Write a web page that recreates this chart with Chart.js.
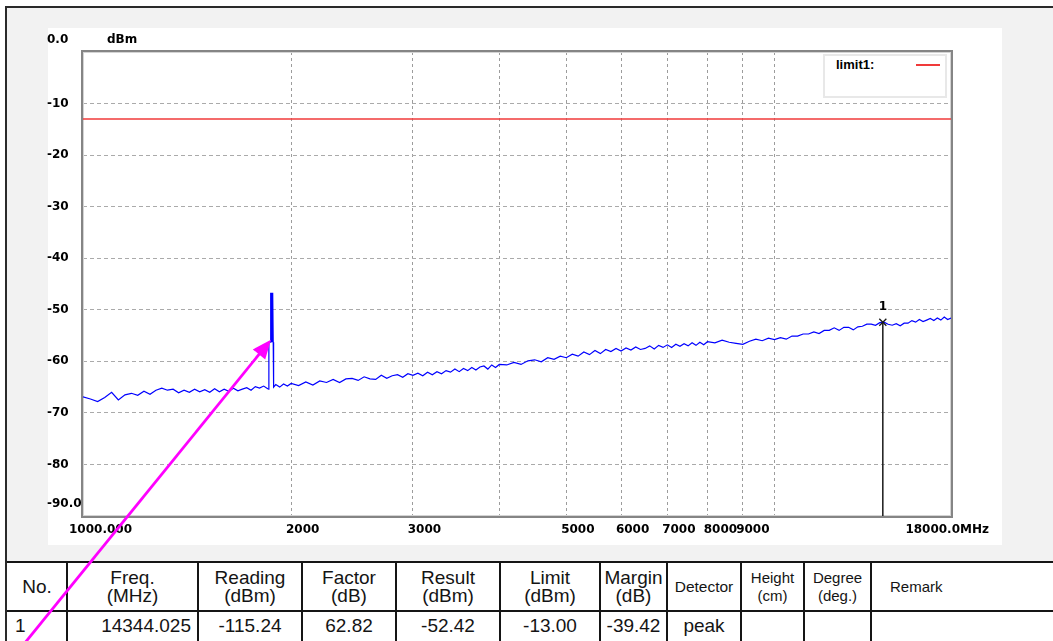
<!DOCTYPE html>
<html><head><meta charset="utf-8">
<script src="https://cdn.jsdelivr.net/npm/chart.js@4.4.1/dist/chart.umd.min.js"></script>
<style>
html,body{margin:0;padding:0;background:#fff;width:1053px;height:641px;overflow:hidden;position:relative;font-family:"Liberation Sans",Arial,sans-serif;}
#frame{position:absolute;left:5px;top:6px;width:1100px;height:700px;border-left:2px solid #2a2a2a;border-top:2px solid #2a2a2a;background:#f2f2f2;}
#plotbg{position:absolute;left:48px;top:28px;width:954px;height:517px;background:#fff;}
#c{position:absolute;left:44px;top:28px;}
#legend{position:absolute;left:823px;top:54px;width:120px;height:40px;border:2px solid #e8e8e8;background:#fff;}
#legend span.t{position:absolute;left:11px;top:1px;font:bold 13px "Liberation Sans",Arial,sans-serif;color:#000;}
#legend span.l{position:absolute;left:91px;top:8px;width:24px;height:2px;background:#f03a3a;}
#tbl{position:absolute;left:7px;top:561px;width:1100px;height:90px;background:#fff;}
.hl{position:absolute;left:7px;width:1100px;height:2px;background:#151515;}
.vl{position:absolute;top:561px;width:1.5px;height:90px;background:#151515;}
.cell{position:absolute;display:flex;align-items:center;justify-content:center;text-align:center;color:#141414;white-space:nowrap;}
#arrow{position:absolute;left:0;top:0;pointer-events:none;}
</style>
</head><body>
<div id="frame"></div>
<div id="plotbg"></div>
<canvas id="c" width="958" height="517"></canvas>
<div id="legend"><span class="t">limit1:</span><span class="l"></span></div>
<div id="tbl"></div>
<div id="cells"></div>
<svg id="arrow" width="1053" height="641"></svg>
<script>
// ---------------- data ----------------
const lowBandFreq = [1000,1025,1050,1075,1100,1125,1150,1175,1200,1225,1250,1275,1300,1325,1350,1375,1400,1425,1450,1475,1500,1525,1550,1575,1600,1625,1650,1675,1700,1725,1750,1775,1800,1825,1850];
const lowBandLevel = [-66.9,-67.3,-67.8,-67.0,-66.0,-67.5,-66.5,-66.2,-66.6,-65.8,-66.4,-65.6,-65.2,-65.6,-65.4,-66.1,-65.6,-66.0,-65.4,-65.9,-65.5,-66.0,-65.3,-65.9,-65.4,-65.8,-65.2,-65.7,-65.4,-65.1,-65.6,-64.9,-65.2,-64.8,-65.3];
const spikeFreq = [1856,1857,1866,1867,1869.5,1872,1874.5,1877,1879.5,1882,1884,1886,1887];
const spikeLevel = [-65.4,-56.3,-56.3,-46.7,-56.3,-46.7,-56.3,-46.7,-56.3,-46.7,-56.3,-56.3,-65.0];
const band1Freq = [1900,1925,1950,1975,2000];
const band1Level = [-64.5,-65.0,-64.4,-64.8,-64.3];
const band2Freq = [2050,2100,2150,2200,2250,2300,2350,2400,2450,2500,2550,2600,2650,2700,2750,2800,2850,2900,2950,3000,3050,3100,3150,3200,3250,3300,3350,3400,3450,3500,3550,3600,3650,3700,3750,3800,3850,3900,3950,4000];
const band2Level = [-64.7,-64.0,-64.6,-63.8,-64.1,-63.5,-64.1,-63.4,-63.3,-63.7,-63.0,-63.4,-63.5,-62.7,-63.3,-62.8,-62.6,-63.1,-62.4,-62.7,-62.3,-62.8,-62.1,-62.6,-62.0,-62.4,-61.8,-62.1,-61.5,-62.0,-61.4,-61.8,-61.2,-61.7,-61.1,-60.9,-61.5,-60.7,-61.2,-60.6];
const band3Freq = [4100,4200,4300,4400,4500,4600,4700,4800,4900,5000,5100,5200,5300,5400,5500,5600,5700,5800,5900,6000,6100,6200,6300,6400,6500,6600,6700,6800,6900,7000,7100,7200,7300,7400,7500,7600,7700,7800,7900,8000];
const band3Level = [-60.7,-60.2,-60.6,-59.9,-59.7,-60.1,-59.3,-59.6,-59.0,-59.3,-58.6,-59.0,-58.2,-58.7,-57.9,-58.5,-57.7,-58.1,-57.5,-58.0,-57.4,-57.8,-57.2,-57.7,-57.5,-57.0,-57.6,-56.9,-57.3,-56.8,-57.3,-56.7,-57.1,-56.6,-57.0,-56.4,-56.9,-56.3,-56.8,-56.2];
const band4Freq = [8200,8400,8600,8800,9000,9200,9400,9600,9800,10000,10200,10400,10600,10800,11000,11200,11400,11600,11800,12000,12200,12400,12600,12800,13000,13200,13400,13600,13800,14000,14200,14400,14600,14800,15000,15200,15400,15600,15800,16000,16200,16400,16600,16800,17000,17200,17400,17600,17800,18000];
const band4Level = [-56.4,-55.9,-56.3,-56.5,-56.7,-56.1,-55.7,-56.0,-55.5,-55.8,-55.4,-55.7,-55.1,-55.1,-54.7,-54.7,-54.3,-54.6,-54.0,-54.0,-53.5,-54.0,-53.4,-53.4,-53.9,-53.3,-53.2,-52.8,-52.8,-53.0,-52.5,-52.4,-52.8,-53.0,-52.7,-53.1,-52.6,-52.6,-52.1,-52.4,-51.9,-52.3,-52.0,-51.7,-52.1,-51.6,-52.0,-51.4,-51.9,-51.6];

const limitFreq = [1000, 18000];
const limitLevel = [-13, -13];
const markerFreq = 14344.025;
const markerLevel = -52.42;
const markerLabel = '1';

const xTickValues = [1000,2000,3000,4000,5000,6000,7000,8000,9000,10000,18000];
const xTickLabels = ['1000.000','2000','3000','','5000','6000','7000','8000','9000','','18000.0MHz'];
const yTickValues = [0,-10,-20,-30,-40,-50,-60,-70,-80,-90];
const yTickLabels = ['0.0','-10','-20','-30','-40','-50','-60','-70','-80','-90.0'];
const yUnit = 'dBm';

const tableHeaders = [['No.'],['Freq.','(MHz)'],['Reading','(dBm)'],['Factor','(dB)'],['Result','(dBm)'],['Limit','(dBm)'],['Margin','(dB)'],['Detector'],['Height','(cm)'],['Degree','(deg.)'],['Remark']];
const tableRow = ['1','14344.025','-115.24','62.82','-52.42','-13.00','-39.42','peak','','',''];

// annotation arrow target (data coords)
const arrowTarget = {x: 1870, y: -55.8};

// --------------- build -----------------
const traceFreq = [].concat(lowBandFreq, spikeFreq, band1Freq, band2Freq, band3Freq, band4Freq);
const traceLevel = [].concat(lowBandLevel, spikeLevel, band1Level, band2Level, band3Level, band4Level);
const toXY = (fs, ls) => fs.map((f, i) => ({x: f, y: ls[i]}));

const BOLD = {family: '"DejaVu Sans", sans-serif', size: 12, weight: 'bold', lineHeight: 1};

const frameBorder = {
  id: 'frameBorder',
  beforeDatasetsDraw(chart) {
    const {ctx, chartArea: a} = chart;
    ctx.save();
    ctx.strokeStyle = '#d4d4d4'; ctx.lineWidth = 1;
    ctx.strokeRect(a.left + 0.5, a.top + 0.5, a.right - a.left - 1, a.bottom - a.top - 1);
    ctx.strokeStyle = '#858585'; ctx.lineWidth = 2;
    ctx.strokeRect(a.left - 1, a.top - 1, a.right - a.left + 2, a.bottom - a.top + 2);
    ctx.restore();
  }
};

const xLabelNudge = {
  id: 'xLabelNudge',
  beforeDraw(chart) {
    const s = chart.scales.x;
    const items = s.getLabelItems();
    if (!items || items._nudged) return;
    items._nudged = true;
    items[0].options.translation[0] -= 25.5;
    items[items.length - 1].options.translation[0] += 26.5;
    items[7].options.translation[0] += 1.5;
    items[8].options.translation[0] -= 1.5;
  }
};

const textBits = {
  id: 'textBits',
  afterDatasetsDraw(chart) {
    const {ctx, chartArea: a, scales: {x, y}} = chart;
    ctx.save();
    ctx.fillStyle = '#000';
    ctx.font = 'bold 12px "DejaVu Sans", sans-serif';
    ctx.textBaseline = 'middle';
    ctx.textAlign = 'left';
    ctx.fillText(yUnit, a.left + 24, a.top - 12);
    ctx.textAlign = 'center';
    ctx.fillText(markerLabel, x.getPixelForValue(markerFreq), y.getPixelForValue(markerLevel) - 15);
    ctx.restore();
  },
  afterRender(chart) { drawArrow(chart); }
};

function drawArrow(chart) {
  const r = chart.canvas.getBoundingClientRect();
  const tx = r.left + chart.scales.x.getPixelForValue(arrowTarget.x);
  const ty = r.top + chart.scales.y.getPixelForValue(arrowTarget.y);
  const sx = 24, sy = 644;
  const dx = tx - sx, dy = ty - sy, len = Math.hypot(dx, dy);
  const ux = dx / len, uy = dy / len, nx = -uy, ny = ux;
  const L = 19, W = 8;
  const bx = tx - ux * L, by = ty - uy * L;
  const svg = document.getElementById('arrow');
  svg.innerHTML =
    `<line x1="${sx}" y1="${sy}" x2="${bx + ux*2}" y2="${by + uy*2}" stroke="#ff00ff" stroke-width="2.8"/>` +
    `<polygon points="${tx},${ty} ${bx + nx*W},${by + ny*W} ${bx - nx*W},${by - ny*W}" fill="#ff00ff"/>`;
}

new Chart(document.getElementById('c'), {
  type: 'line',
  data: {
    datasets: [
      {label: 'marker', data: [{x: markerFreq, y: markerLevel}, {x: markerFreq, y: -90}], borderColor: '#1a1a1a', borderWidth: 1.5,
       pointRadius: [5, 0], pointStyle: 'crossRot', pointBorderColor: '#1a1a1a', pointBorderWidth: 1.3, order: 0},
      {label: 'trace', data: toXY(traceFreq, traceLevel), borderColor: '#0000ff', borderWidth: 1.2, pointRadius: 0, tension: 0, order: 1},
      {label: 'limit1', data: toXY(limitFreq, limitLevel), borderColor: '#f03a3a', borderWidth: 1.6, pointRadius: 0, order: 2}
    ]
  },
  options: {
    responsive: false, animation: false, devicePixelRatio: 1, events: [],
    layout: {padding: {left: 3, top: 24, right: 51, bottom: 0}},
    plugins: {legend: {display: false}, tooltip: {enabled: false}},
    scales: {
      x: {
        type: 'logarithmic', min: 1000, max: 18000,
        afterBuildTicks: s => { s.ticks = xTickValues.map(v => ({value: v})); },
        afterFit: s => { s.height = 29; },
        ticks: {autoSkip: false, maxRotation: 0, minRotation: 0, align: 'inner', labelOffset: 11.5, padding: 7,
                color: '#000', font: {family: '"DejaVu Sans", sans-serif', size: 12, weight: 'bold'},
                callback: v => { const i = xTickValues.indexOf(v); return i < 0 ? '' : xTickLabels[i]; }},
        grid: {drawTicks: false, lineWidth: 1,
               color: c => (c.tick && (c.tick.value === 1000 || c.tick.value === 18000)) ? 'rgba(0,0,0,0)' : '#9c9c9c'},
        border: {display: false, dash: [3, 3]}
      },
      y: {
        type: 'linear', min: -90, max: 0,
        afterFit: s => { s.width = 36; },
        ticks: {stepSize: 10, padding: 0, crossAlign: 'far', color: '#000', font: BOLD,
                callback: v => { const i = yTickValues.indexOf(v); const t = i < 0 ? '' : yTickLabels[i]; return (v === 0 || v === -90) ? [t, '', ''] : t; }},
        grid: {drawTicks: false, lineWidth: 1,
               color: c => (c.tick && (c.tick.value === 0 || c.tick.value === -90)) ? 'rgba(0,0,0,0)' : '#aaaaaa'},
        border: {display: false, dash: [4, 3]}
      }
    }
  },
  plugins: [frameBorder, xLabelNudge, textBits]
});

// --------------- results table ---------------
(function buildTable() {
  const edges = [7, 67, 198, 302, 396, 500, 600, 667, 741, 804, 871, 1100];
  const host = document.getElementById('cells');
  const add = (cls, style, html) => { const d = document.createElement('div'); d.className = cls; d.setAttribute('style', style); if (html !== undefined) d.innerHTML = html; host.appendChild(d); };
  add('hl', 'top:561px;');
  add('hl', 'top:610px;');
  for (let i = 1; i < edges.length - 1; i++) add('vl', `left:${edges[i] - 0.75}px;`);
  tableHeaders.forEach((lines, i) => {
    const small = i >= 7;
    const fs = i === 7 ? 15.5 : (small ? 15 : 19);
    const lh = small ? 17.5 : 18;
    let st = `left:${edges[i]}px;width:${edges[i+1]-edges[i]}px;top:563px;height:47px;font-size:${fs}px;line-height:${lh}px;`;
    if (i === 10) st += 'justify-content:flex-start;padding-left:19px;';
    add('cell', st, lines.join('<br>'));
  });
  tableRow.forEach((txt, i) => {
    let st = `left:${edges[i]}px;width:${edges[i+1]-edges[i]}px;top:612px;height:28px;font-size:19px;line-height:20px;`;
    if (i === 0) st += 'justify-content:flex-start;padding-left:8px;';
    if (i === 1) st += 'justify-content:flex-end;width:' + (edges[2]-edges[1]-7) + 'px;';
    add('cell', st, txt);
  });
})();
</script>
</body></html>
